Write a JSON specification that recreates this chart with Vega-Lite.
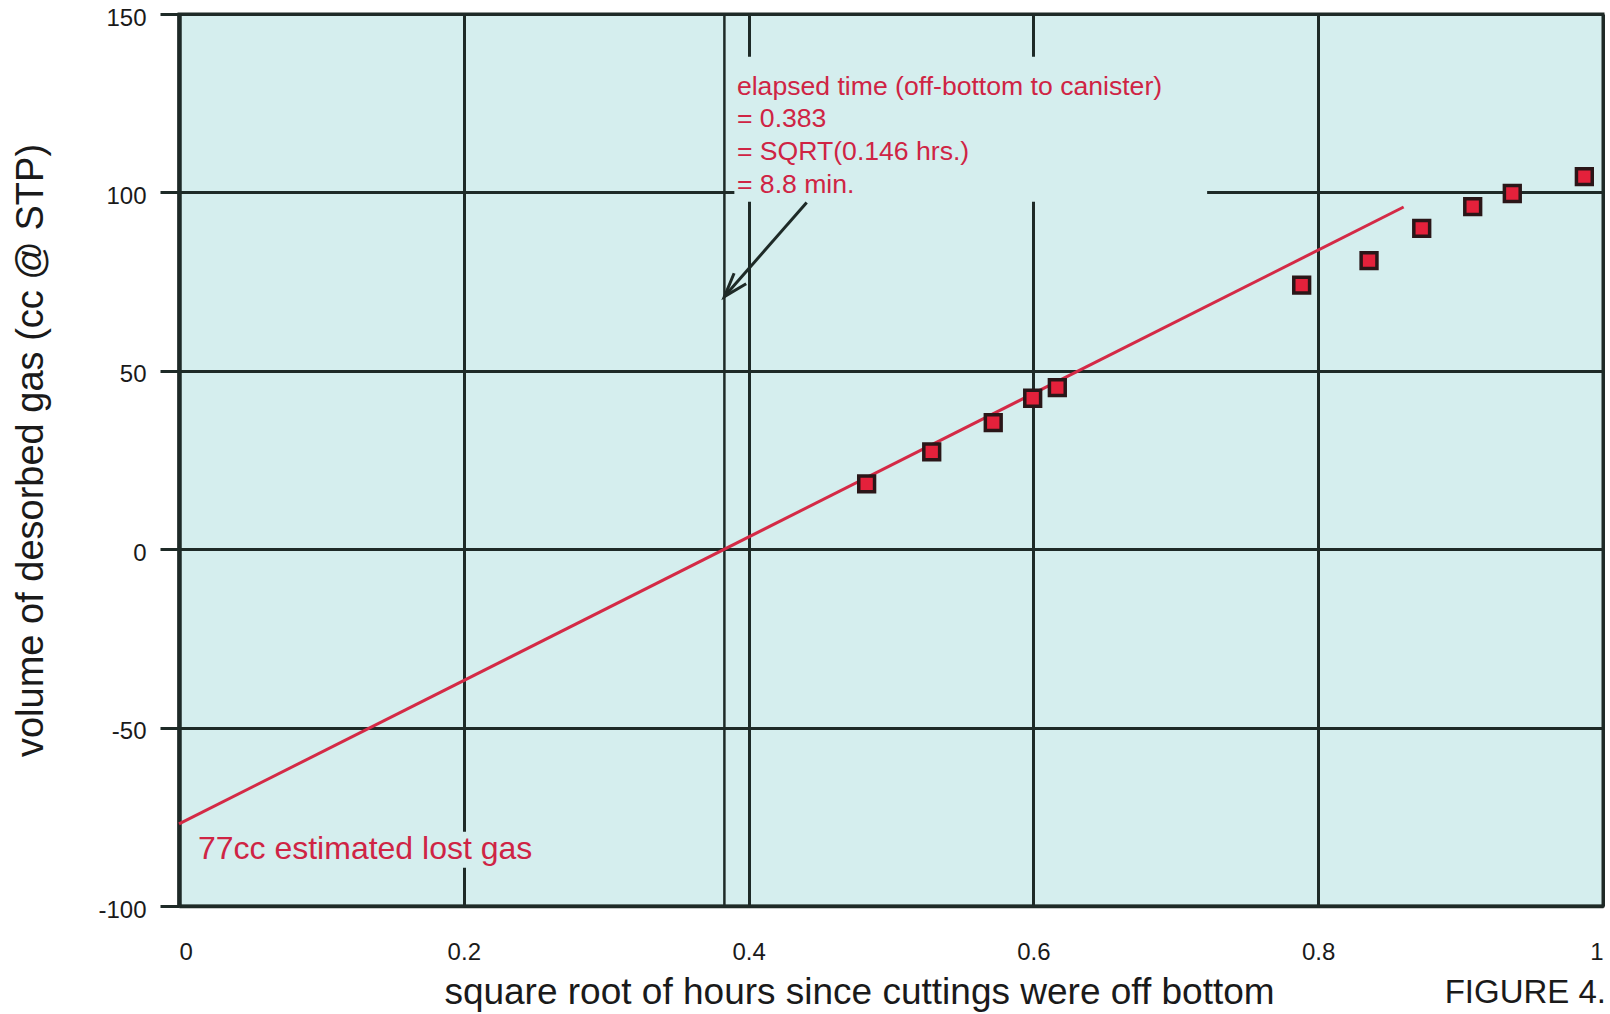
{
  "$schema": "https://vega.github.io/schema/vega-lite/v6.json",
  "width": 1424,
  "height": 892,
  "autosize": {"type": "none"},
  "padding": {"left": 179, "top": 14, "right": 7, "bottom": 108},
  "background": "#ffffff",
  "title": {
    "text": "FIGURE 4.",
    "orient": "bottom",
    "anchor": "end",
    "frame": "group",
    "baseline": "alphabetic",
    "offset": -7,
    "fontSize": 33,
    "fontWeight": "normal",
    "font": "Liberation Sans",
    "color": "#1a1a1a",
    "dx": 3
  },
  "config": {
    "font": "Liberation Sans",
    "view": {"fill": "#d5eeee", "stroke": "#1e2a27", "strokeWidth": 3},
    "axis": {
      "gridColor": "#1e2a27",
      "gridWidth": 3,
      "gridOpacity": 1,
      "domainColor": "#1e2a27",
      "tickColor": "#1e2a27",
      "labelColor": "#1a1a1a",
      "titleColor": "#1a1a1a",
      "labelFont": "Liberation Sans",
      "titleFont": "Liberation Sans",
      "titleFontWeight": "normal"
    }
  },
  "datasets": {
    "desorbed": [
      {"x": 0.4829, "y": 18.3},
      {"x": 0.5286, "y": 27.3},
      {"x": 0.5718, "y": 35.5},
      {"x": 0.5995, "y": 42.3},
      {"x": 0.6168, "y": 45.3},
      {"x": 0.7884, "y": 74.0},
      {"x": 0.8357, "y": 80.9},
      {"x": 0.8727, "y": 89.9},
      {"x": 0.9085, "y": 96.0},
      {"x": 0.9363, "y": 99.7},
      {"x": 0.9869, "y": 104.4}
    ],
    "fit": [
      {"x": 0.0, "y": -77.0},
      {"x": 0.86, "y": 95.9}
    ],
    "arrow": [
      {"x": 0.4408, "y": 97.2},
      {"x": 0.383, "y": 70.8}
    ],
    "labelBoxes": [
      {"x0": 0.39, "x1": 0.722, "y0": 97.4, "y1": 138.0},
      {"x0": 0.012, "x1": 0.245, "y0": -79.2, "y1": -89.3}
    ],
    "single": [{}]
  },
  "layer": [
    {
      "data": {"name": "labelBoxes"},
      "mark": {"type": "rect", "fill": "#d5eeee", "strokeWidth": 0},
      "encoding": {
        "x": {"field": "x0", "type": "quantitative"},
        "x2": {"field": "x1"},
        "y": {"field": "y0", "type": "quantitative"},
        "y2": {"field": "y1"}
      }
    },
    {
      "data": {"name": "single"},
      "mark": {"type": "rule", "color": "#1e2a27", "strokeWidth": 2.5},
      "encoding": {
        "x": {"datum": 0.383, "type": "quantitative"}
      }
    },
    {
      "data": {"name": "fit"},
      "mark": {"type": "line", "color": "#d42a46", "strokeWidth": 3},
      "encoding": {
        "x": {"field": "x", "type": "quantitative"},
        "y": {"field": "y", "type": "quantitative"}
      }
    },
    {
      "data": {"name": "arrow"},
      "mark": {"type": "line", "color": "#1e2a27", "strokeWidth": 3},
      "encoding": {
        "x": {"field": "x", "type": "quantitative"},
        "y": {"field": "y", "type": "quantitative"}
      }
    },
    {
      "data": {"name": "single"},
      "mark": {
        "type": "point",
        "shape": "M-0.4,1.2L0,0L0.4,1.2",
        "filled": false,
        "stroke": "#1e2a27",
        "strokeWidth": 3,
        "opacity": 1,
        "size": 1600,
        "angle": 221
      },
      "encoding": {
        "x": {"datum": 0.383, "type": "quantitative"},
        "y": {"datum": 70.8, "type": "quantitative"}
      }
    },
    {
      "data": {"name": "desorbed"},
      "mark": {
        "type": "point",
        "shape": "square",
        "filled": true,
        "fill": "#e4213b",
        "stroke": "#2a1618",
        "strokeWidth": 3.5,
        "opacity": 1,
        "size": 250
      },
      "encoding": {
        "x": {
          "field": "x",
          "type": "quantitative",
          "scale": {"domain": [0, 1], "nice": false, "zero": false},
          "axis": {
            "title": "square root of hours since cuttings were off bottom",
            "values": [0, 0.2, 0.4, 0.6, 0.8, 1],
            "format": "~g",
            "grid": true,
            "ticks": false,
            "domainWidth": 3.5,
            "labelFontSize": 24,
            "labelPadding": 34,
            "titleFontSize": 37,
            "titleX": 680,
            "titleY": 97,
            "titleAlign": "center",
            "titleBaseline": "alphabetic"
          }
        },
        "y": {
          "field": "y",
          "type": "quantitative",
          "scale": {"domain": [-100, 150], "nice": false, "zero": false},
          "axis": {
            "title": "volume of desorbed gas (cc @ STP)",
            "values": [-100, -50, 0, 50, 100, 150],
            "labelExpr": "replace(datum.label, '\u2212', '-')",
            "grid": true,
            "ticks": true,
            "tickSize": 19,
            "tickWidth": 3,
            "domainWidth": 4.5,
            "labelFontSize": 24,
            "labelPadding": 14,
            "labelBaseline": "alphabetic",
            "labelOffset": 11,
            "titleFontSize": 38,
            "titleAngle": 270,
            "titleX": -137,
            "titleY": 436,
            "titleAlign": "center",
            "titleBaseline": "alphabetic"
          }
        }
      }
    },
    {
      "data": {"name": "single"},
      "mark": {
        "type": "text",
        "text": [
          "elapsed time (off-bottom to canister)",
          "= 0.383",
          "= SQRT(0.146 hrs.)",
          "= 8.8 min."
        ],
        "align": "left",
        "baseline": "alphabetic",
        "fontSize": 26.6,
        "lineHeight": 32.8,
        "color": "#cf2444"
      },
      "encoding": {
        "x": {"datum": 0.3918, "type": "quantitative"},
        "y": {"datum": 127.4, "type": "quantitative"}
      }
    },
    {
      "data": {"name": "single"},
      "mark": {
        "type": "text",
        "text": "77cc estimated lost gas",
        "align": "left",
        "baseline": "alphabetic",
        "fontSize": 32,
        "color": "#cf2444"
      },
      "encoding": {
        "x": {"datum": 0.0133, "type": "quantitative"},
        "y": {"datum": -86.8, "type": "quantitative"}
      }
    }
  ]
}
